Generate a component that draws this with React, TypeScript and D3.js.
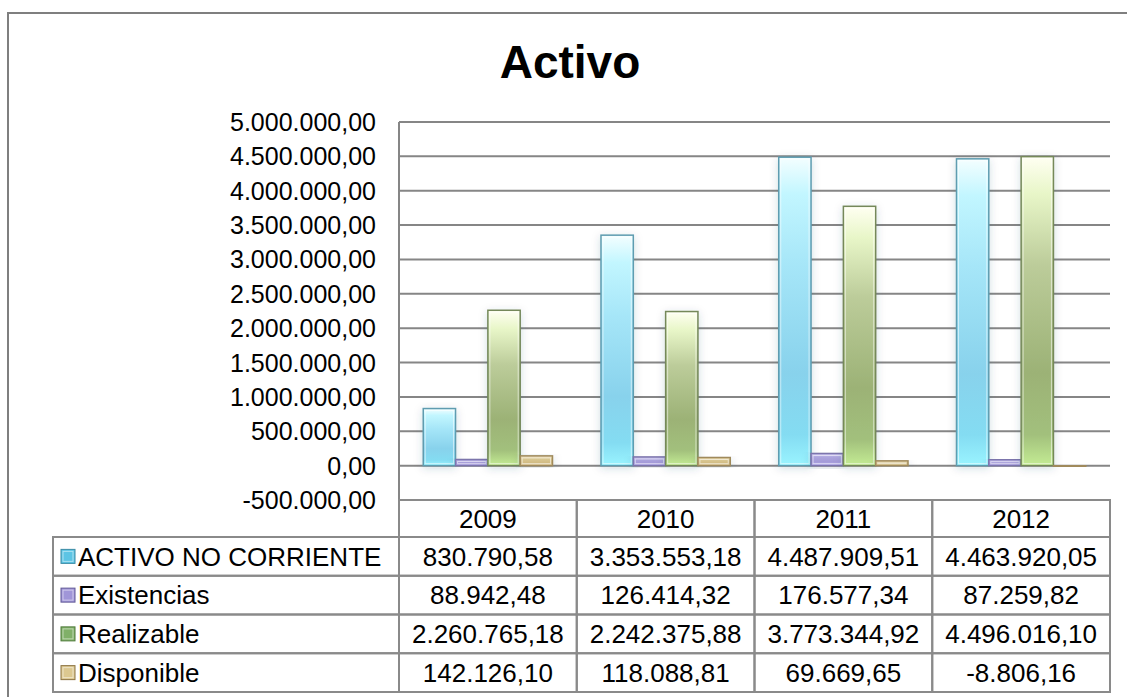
import { useEffect, useRef } from 'react';
import * as d3 from 'd3';

const years = ['2009', '2010', '2011', '2012'];
const seriesNames = ['ACTIVO NO CORRIENTE', 'Existencias', 'Realizable', 'Disponible'];
const activoNoCorriente = [830790.58, 3353553.18, 4487909.51, 4463920.05];
const existencias = [88942.48, 126414.32, 176577.34, 87259.82];
const realizable = [2260765.18, 2242375.88, 3773344.92, 4496016.1];
const disponible = [142126.1, 118088.81, 69669.65, -8806.16];
const yTicks = [5000000, 4500000, 4000000, 3500000, 3000000, 2500000, 2000000, 1500000, 1000000, 500000, 0, -500000];

const seriesValues = [activoNoCorriente, existencias, realizable, disponible];

// gradient stops per series (top -> bottom), outline, legend swatch
const seriesStyle = [
  { stops: ['#f4feff', '#c2f6ff', '#a6e6f8', '#88d2ec', '#84dcf2', '#9af4ff'], stroke: '#5e9cb0', swatch: '#5cc4e4', swatchStroke: '#3a8aa4' },
  { stops: ['#d8d2f4', '#bcb4e8', '#aaa2dc', '#a49ad8', '#b4acea', '#c4bcf4'], stroke: '#7c74ac', swatch: '#a096d8', swatchStroke: '#605896' },
  { stops: ['#fffff2', '#e8f6c8', '#bccc9a', '#9cb276', '#a2c07c', '#c4ec94'], stroke: '#74885a', swatch: '#80b068', swatchStroke: '#4e7a3a' },
  { stops: ['#f4ead0', '#e6d6a8', '#d8c690', '#d2bc84', '#dcc898', '#eadab0'], stroke: '#a08a5c', swatch: '#dcc890', swatchStroke: '#8c7444' },
];

const esLocale = d3.formatLocale({ decimal: ',', thousands: '.', grouping: [3], currency: ['', ' €'], minus: '-' });
const fmt = esLocale.format(',.2f');

const FONT = '"Liberation Sans", Arial, sans-serif';

export default function App() {
  const svgRef = useRef<SVGSVGElement>(null);

  useEffect(() => {
    if (!svgRef.current) return;
    const W = 1127;
    const H = 697;
    const plot = { left: 399, right: 1110, top: 122, bottom: 500 };
    const tableLeft = 53;
    const rowH = 38.75;
    const headerBottom = 537;

    const svg = d3.select(svgRef.current);
    svg.selectAll('*').remove();
    svg.attr('width', W).attr('height', H);

    const defs = svg.append('defs');
    seriesStyle.forEach((s, i) => {
      const lg = defs.append('linearGradient')
        .attr('id', `grad${i}`)
        .attr('x1', 0).attr('y1', 0).attr('x2', 0).attr('y2', 1);
      const offs = [0, 0.12, 0.35, 0.7, 0.9, 1];
      s.stops.forEach((c, k) => lg.append('stop').attr('offset', offs[k]).attr('stop-color', c));
    });
    const shadow = defs.append('filter').attr('id', 'glow')
      .attr('x', '-40%').attr('y', '-10%').attr('width', '180%').attr('height', '130%');
    shadow.append('feDropShadow')
      .attr('dx', 0).attr('dy', 2).attr('stdDeviation', 4)
      .attr('flood-color', '#2a4a5a').attr('flood-opacity', 0.18);

    // outer chart border
    svg.append('rect')
      .attr('x', 8).attr('y', 13)
      .attr('width', W + 20).attr('height', H + 20)
      .attr('fill', '#fff')
      .attr('stroke', '#7f7f7f').attr('stroke-width', 2);

    svg.append('text')
      .attr('x', 570).attr('y', 78)
      .attr('text-anchor', 'middle')
      .attr('font-family', FONT)
      .attr('font-size', 46)
      .attr('font-weight', 'bold')
      .attr('fill', '#000')
      .text('Activo');

    const y = d3.scaleLinear().domain([-500000, 5000000]).range([plot.bottom, plot.top]);
    const x = d3.scaleBand().domain(years).range([plot.left, plot.right]).padding(0);
    const xs = d3.scaleBand<number>().domain([0, 1, 2, 3]).range([0, x.bandwidth()])
      .paddingInner(0).paddingOuter(0.75);

    // gridlines
    svg.append('g')
      .selectAll('line')
      .data(yTicks)
      .join('line')
      .attr('x1', plot.left).attr('x2', plot.right)
      .attr('y1', (d) => y(d)).attr('y2', (d) => y(d))
      .attr('stroke', '#868686')
      .attr('stroke-width', 2);

    svg.append('line')
      .attr('x1', plot.left).attr('x2', plot.left)
      .attr('y1', plot.top).attr('y2', plot.bottom)
      .attr('stroke', '#868686').attr('stroke-width', 2);

    // y labels
    svg.append('g')
      .selectAll('text')
      .data(yTicks)
      .join('text')
      .attr('x', 376)
      .attr('y', (d) => y(d))
      .attr('dy', '0.36em')
      .attr('text-anchor', 'end')
      .attr('font-family', FONT)
      .attr('font-size', 25)
      .attr('fill', '#000')
      .text((d) => fmt(d));

    // bars
    const bars = svg.append('g');
    seriesValues.forEach((vals, si) => {
      const s = seriesStyle[si];
      const g = bars.append('g');
      g.selectAll('rect.bar')
        .data(vals)
        .join('rect')
        .attr('class', 'bar')
        .attr('x', (_, i) => x(years[i])! + xs(si)!)
        .attr('y', (d) => y(Math.max(d, 0)))
        .attr('width', xs.bandwidth())
        .attr('height', (d) => Math.max(Math.abs(y(d) - y(0)), 1))
        .attr('fill', `url(#grad${si})`)
        .attr('stroke', s.stroke)
        .attr('stroke-width', 1.5)
        .attr('filter', 'url(#glow)');
      g.selectAll('rect.hl')
        .data(vals)
        .join('rect')
        .attr('class', 'hl')
        .attr('x', (_, i) => x(years[i])! + xs(si)! + 2)
        .attr('y', (d) => y(Math.max(d, 0)) + 2)
        .attr('width', xs.bandwidth() - 4)
        .attr('height', (d) => Math.max(Math.abs(y(d) - y(0)) - 4, 0))
        .attr('fill', 'none')
        .attr('stroke', '#ffffff')
        .attr('stroke-opacity', 0.55)
        .attr('stroke-width', 1);
    });

    // data table
    const table = svg.append('g')
      .attr('font-family', FONT)
      .attr('font-size', 26)
      .attr('fill', '#000');
    const lineColor = '#8a8a8a';

    // header row cells
    years.forEach((yr) => {
      table.append('rect')
        .attr('x', x(yr)!).attr('y', plot.bottom)
        .attr('width', x.bandwidth()).attr('height', headerBottom - plot.bottom)
        .attr('fill', 'none').attr('stroke', lineColor).attr('stroke-width', 2);
      table.append('text')
        .attr('x', x(yr)! + x.bandwidth() / 2)
        .attr('y', (plot.bottom + headerBottom) / 2)
        .attr('dy', '0.36em')
        .attr('text-anchor', 'middle')
        .text(yr);
    });

    seriesNames.forEach((name, si) => {
      const top = headerBottom + si * rowH;
      const cy = top + rowH / 2;
      table.append('rect')
        .attr('x', tableLeft).attr('y', top)
        .attr('width', plot.left - tableLeft).attr('height', rowH)
        .attr('fill', 'none').attr('stroke', lineColor).attr('stroke-width', 2);
      table.append('rect')
        .attr('x', 61).attr('y', cy - 7)
        .attr('width', 14).attr('height', 14)
        .attr('fill', seriesStyle[si].swatch)
        .attr('stroke', seriesStyle[si].swatchStroke).attr('stroke-width', 1);
      table.append('rect')
        .attr('x', 63).attr('y', cy - 5)
        .attr('width', 10).attr('height', 10)
        .attr('fill', 'none')
        .attr('stroke', '#fff').attr('stroke-opacity', 0.5).attr('stroke-width', 1);
      table.append('text')
        .attr('x', 78)
        .attr('y', cy)
        .attr('dy', '0.36em')
        .text(name);
      years.forEach((yr, yi) => {
        table.append('rect')
          .attr('x', x(yr)!).attr('y', top)
          .attr('width', x.bandwidth()).attr('height', rowH)
          .attr('fill', 'none').attr('stroke', lineColor).attr('stroke-width', 2);
        table.append('text')
          .attr('x', x(yr)! + x.bandwidth() / 2)
          .attr('y', cy)
          .attr('dy', '0.36em')
          .attr('text-anchor', 'middle')
          .text(fmt(seriesValues[si][yi]));
      });
    });
  }, []);

  return (
    <div style={{ position: 'absolute', left: 0, top: 0, width: 1127, height: 697, overflow: 'hidden', background: '#fff' }}>
      <svg ref={svgRef} style={{ display: 'block' }} />
    </div>
  );
}
